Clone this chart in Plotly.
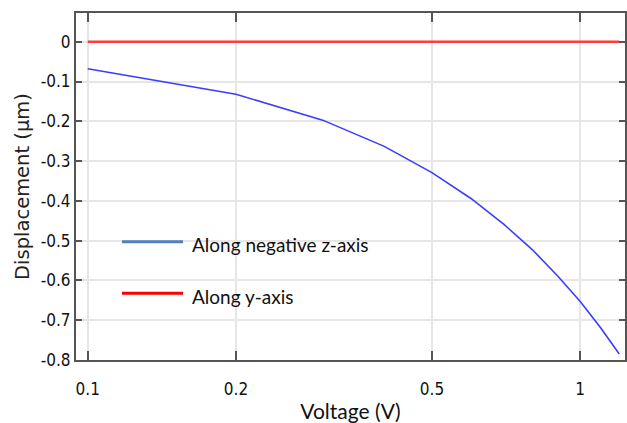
import plotly.graph_objects as go

# Data
voltage = [0.1, 0.2, 0.3, 0.4, 0.5, 0.6, 0.7, 0.8, 0.9, 1.0, 1.1, 1.2]
disp_neg_z = [-0.068, -0.132, -0.197, -0.263, -0.329, -0.394, -0.459, -0.523, -0.589, -0.653, -0.719, -0.785]
disp_y = [0.0] * len(voltage)

x_tickvals = [0.1, 0.2, 0.5, 1]
x_ticktext = ["0.1", "0.2", "0.5", "1"]
y_tickvals = [0, -0.1, -0.2, -0.3, -0.4, -0.5, -0.6, -0.7, -0.8]
y_ticktext = ["0", "-0.1", "-0.2", "-0.3", "-0.4", "-0.5", "-0.6", "-0.7", "-0.8"]

legend_labels = ["Along negative z-axis", "Along y-axis"]
legend_colors = ["#4f81bd", "#ff0000"]

W, H = 627, 423
L, R, T, B = 76, 2, 13, 63

fig = go.Figure()
fig.add_trace(go.Scatter(x=voltage, y=disp_y, mode="lines",
                         line=dict(color="#ff3c3c", width=2.6), showlegend=False))
fig.add_trace(go.Scatter(x=voltage, y=disp_neg_z, mode="lines",
                         line=dict(color="#3c3cff", width=1.6), showlegend=False))

tick_font = dict(family="Liberation Sans Narrow, DejaVu Sans Condensed, Arial", size=17, color="#111")

fig.update_xaxes(type="log", range=[-1.0238, 0.0909], automargin=False,
                 tickvals=x_tickvals, ticktext=x_ticktext,
                 ticks="inside", ticklen=9, tickwidth=2, tickcolor="#555",
                 showline=True, linecolor="#555", linewidth=2, mirror="ticks",
                 showgrid=True, gridcolor="#e6e6e6", gridwidth=1.5,
                 zeroline=False, tickfont=tick_font, ticklabelstandoff=13,
                 title=dict(text="Voltage (V)", standoff=10,
                            font=dict(family="Liberation Sans Narrow, Lato, Arial", size=21, color="#111")))
fig.update_yaxes(range=[-0.8, 0.0723], automargin=False,
                 tickvals=y_tickvals, ticktext=y_ticktext,
                 ticks="inside", ticklen=6, tickwidth=2, tickcolor="#555",
                 showline=True, linecolor="#555", linewidth=2, mirror="ticks",
                 showgrid=True, gridcolor="#e6e6e6", gridwidth=1.5,
                 zeroline=False, tickfont=tick_font,
                 title=dict(text="Displacement (μm)", standoff=6,
                            font=dict(family="DejaVu Sans", size=19.5, color="#222")))

pw, ph = W - L - R, H - T - B
def px(xp):
    return (xp - L) / pw
def py(yp):
    return (H - B - yp) / ph

key_y = [241.7, 293.3]
text_y = [244.5, 296]
for lab, col, ky, ty in zip(legend_labels, legend_colors, key_y, text_y):
    fig.add_shape(type="line", xref="paper", yref="paper",
                  x0=px(122), x1=px(183), y0=py(ky), y1=py(ky),
                  line=dict(color=col, width=3))
    fig.add_annotation(xref="paper", yref="paper", x=px(190), y=py(ty),
                       text=lab, showarrow=False, xanchor="left", yanchor="middle",
                       font=dict(family="Lato, Open Sans, Arial", size=19, color="#111"))

fig.update_layout(width=W, height=H, margin=dict(l=L, r=R, t=T, b=B),
                  paper_bgcolor="white", plot_bgcolor="white")

fig.write_html("out.html", config={"displayModeBar": False},
               post_script="document.body.style.margin='0';document.body.style.overflow='hidden';")
